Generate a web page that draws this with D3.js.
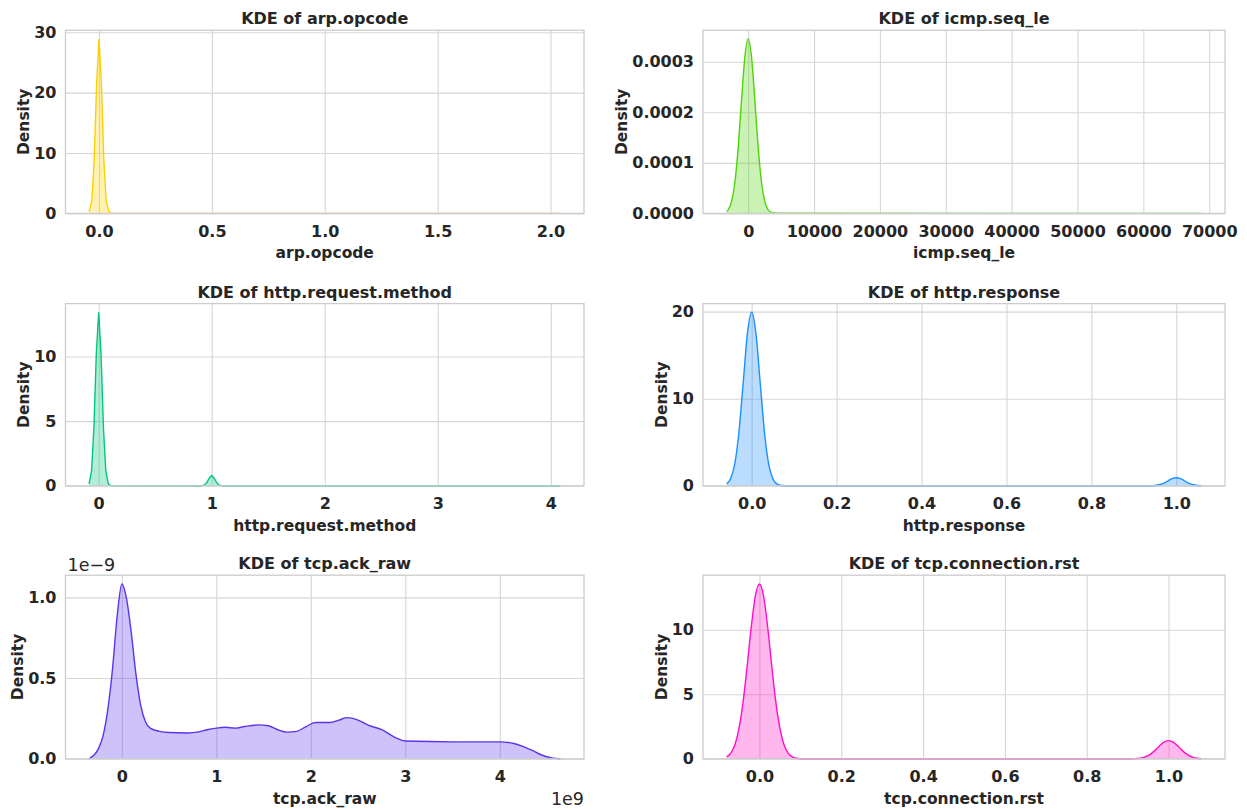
<!DOCTYPE html>
<html><head><meta charset="utf-8">
<script src="https://cdn.jsdelivr.net/npm/d3@7"></script>
<style>
body{margin:0;background:#fff;}
text{font-family:"DejaVu Sans",sans-serif;fill:#262626;}
</style></head><body>
<svg id="chart" width="1247" height="809"></svg>
<script>
// ---------- data ----------
const arpX       = [-0.044, -0.0315, -0.021, -0.0105, 0, 0.0105, 0.021, 0.0315, 0.044, 0.055, 1.0, 2.044];
const arpDensity = [0.3, 2.1, 9.1, 21.6, 28.9, 21.6, 9.1, 2.1, 0.3, 0.02, 0, 0];
const arpXTicks  = [0, 0.5, 1.0, 1.5, 2.0];
const arpYTicks  = [0, 10, 20, 30];

const icmpX       = [-3260, -3000, -2500, -2000, -1500, -1000, -500, 0, 500, 1000, 1500, 2000, 2500, 3000, 3260, 4000, 5000, 68795];
const icmpDensity = [0.0000038, 0.0000077, 0.0000245, 0.0000635, 0.000133, 0.000226, 0.000310, 0.000345, 0.000310, 0.000226, 0.000133, 0.0000635, 0.0000245, 0.0000077, 0.0000038, 0.0000008, 0.0000002, 0];
const icmpXTicks  = [0, 10000, 20000, 30000, 40000, 50000, 60000, 70000];
const icmpYTicks  = [0, 0.0001, 0.0002, 0.0003];

const reqX       = [-0.085, -0.063, -0.042, -0.021, 0, 0.021, 0.042, 0.063, 0.085, 0.106, 0.894, 0.915, 0.937, 0.958, 0.979, 1.0, 1.021, 1.042, 1.063, 1.085, 1.106, 4.085];
const reqDensity = [0.15, 1.15, 4.5, 10.2, 13.42, 10.2, 4.5, 1.15, 0.15, 0.01, 0, 0.01, 0.07, 0.27, 0.61, 0.80, 0.61, 0.27, 0.07, 0.01, 0, 0];
const reqXTicks  = [0, 1, 2, 3, 4];
const reqYTicks  = [0, 5, 10];

const respX       = [-0.0588, -0.05, -0.04, -0.03, -0.02, -0.01, 0, 0.01, 0.02, 0.03, 0.04, 0.05, 0.0588, 0.07, 0.09, 0.5, 0.91, 0.93,
                     0.9412, 0.95, 0.96, 0.97, 0.98, 0.99, 1.0, 1.01, 1.02, 1.03, 1.04, 1.05, 1.0588];
const respDensity = [0.22, 0.77, 2.49, 6.18, 11.83, 17.49, 19.92, 17.49, 11.83, 6.18, 2.49, 0.77, 0.22, 0.03, 0, 0, 0, 0.002,
                     0.01, 0.036, 0.116, 0.288, 0.552, 0.817, 0.93, 0.817, 0.552, 0.288, 0.116, 0.036, 0.01];
const respXTicks  = [0, 0.2, 0.4, 0.6, 0.8, 1.0];
const respYTicks  = [0, 10, 20];

// tcp.ack_raw: x in units of 1e9, density in units of 1e-9
const ackX       = [-0.347, -0.3, -0.25, -0.2, -0.15, -0.1, -0.05, 0, 0.05, 0.1, 0.15, 0.2, 0.25, 0.3, 0.4, 0.5, 0.7, 0.8, 0.9, 1.0, 1.1, 1.2, 1.3, 1.45, 1.55, 1.65, 1.75, 1.85, 1.95, 2.05, 2.2, 2.3, 2.38, 2.5, 2.6, 2.75, 2.9, 3.0, 3.5, 4.0, 4.15, 4.25, 4.35, 4.45, 4.55, 4.642];
const ackDensity = [0.0, 0.02, 0.06, 0.14, 0.30, 0.55, 0.88, 1.083, 0.99, 0.78, 0.52, 0.33, 0.23, 0.19, 0.17, 0.163, 0.16, 0.165, 0.18, 0.19, 0.195, 0.19, 0.2, 0.21, 0.205, 0.18, 0.165, 0.17, 0.2, 0.225, 0.225, 0.24, 0.255, 0.24, 0.21, 0.18, 0.13, 0.11, 0.105, 0.105, 0.095, 0.075, 0.05, 0.022, 0.006, 0.0];
const ackXTicks  = [0, 1, 2, 3, 4];
const ackYTicks  = [0, 0.5, 1.0];

const rstX       = [-0.08, -0.07, -0.06, -0.05, -0.04, -0.03, -0.02, -0.01, 0, 0.01, 0.02, 0.03, 0.04, 0.05, 0.06, 0.07, 0.08, 0.09, 0.11, 0.5, 0.89, 0.91,
                    0.92, 0.93, 0.94, 0.95, 0.96, 0.97, 0.98, 0.99, 1.0, 1.01, 1.02, 1.03, 1.04, 1.05, 1.06, 1.07, 1.08];
const rstDensity = [0.15, 0.44, 1.09, 2.35, 4.41, 7.21, 10.23, 12.63, 13.55, 12.63, 10.23, 7.21, 4.41, 2.35, 1.09, 0.44, 0.15, 0.04, 0, 0, 0, 0.004,
                    0.016, 0.045, 0.113, 0.244, 0.46, 0.75, 1.065, 1.314, 1.41, 1.314, 1.065, 0.75, 0.46, 0.244, 0.113, 0.045, 0.016];
const rstXTicks  = [0, 0.2, 0.4, 0.6, 0.8, 1.0];
const rstYTicks  = [0, 5, 10];

// ---------- chart ----------
const panels = [
  {title:"KDE of arp.opcode", xlabel:"arp.opcode", xs:arpX, ys:arpDensity, xt:arpXTicks, yt:arpYTicks, xf:d3.format(".1f"), yf:d3.format("d"), curve:d3.curveLinear, color:"#FFD000", row:0, col:0},
  {title:"KDE of icmp.seq_le", xlabel:"icmp.seq_le", xs:icmpX, ys:icmpDensity, xt:icmpXTicks, yt:icmpYTicks, xf:d3.format("d"), yf:d3.format(".4f"), curve:d3.curveMonotoneX, color:"#4FD40A", row:0, col:1},
  {title:"KDE of http.request.method", xlabel:"http.request.method", xs:reqX, ys:reqDensity, xt:reqXTicks, yt:reqYTicks, xf:d3.format("d"), yf:d3.format("d"), curve:d3.curveLinear, color:"#00C87A", row:1, col:0},
  {title:"KDE of http.response", xlabel:"http.response", xs:respX, ys:respDensity, xt:respXTicks, yt:respYTicks, xf:d3.format(".1f"), yf:d3.format("d"), curve:d3.curveMonotoneX, color:"#1A8FFF", row:1, col:1},
  {title:"KDE of tcp.ack_raw", xlabel:"tcp.ack_raw", xs:ackX, ys:ackDensity, xt:ackXTicks, yt:ackYTicks, xf:d3.format("d"), yf:d3.format(".1f"), curve:d3.curveMonotoneX, color:"#5B34EC", row:2, col:0, offsets:true},
  {title:"KDE of tcp.connection.rst", xlabel:"tcp.connection.rst", xs:rstX, ys:rstDensity, xt:rstXTicks, yt:rstYTicks, xf:d3.format(".1f"), yf:d3.format("d"), curve:d3.curveMonotoneX, color:"#FF10C8", row:2, col:1}
];

const colLeft = [65.5, 703], colRight = [584, 1225];
const rowTop = [30.2, 303.6, 575.2], rowBottom = [213.4, 485.8, 758.8];
const FS_TICK = 16, FS_TITLE = 16, FS_LABEL = 15.5;

const svg = d3.select("#chart");
svg.append("rect").attr("width",1247).attr("height",809).attr("fill","#fff");

panels.forEach(p => {
  const L = colLeft[p.col], R = colRight[p.col], T = rowTop[p.row], B = rowBottom[p.row];
  const W = R - L, H = B - T;
  const [x0, x1] = d3.extent(p.xs);
  const m = (x1 - x0) * 0.05;
  const x = d3.scaleLinear().domain([x0 - m, x1 + m]).range([0, W]);
  const y = d3.scaleLinear().domain([0, d3.max(p.ys) * 1.05]).range([H, 0]);
  const g = svg.append("g").attr("transform", `translate(${L},${T})`);

  const xa = g.append("g").attr("transform", `translate(0,${H})`)
    .call(d3.axisBottom(x).tickValues(p.xt).tickFormat(p.xf).tickSize(-H).tickPadding(12));
  const ya = g.append("g")
    .call(d3.axisLeft(y).tickValues(p.yt).tickFormat(p.yf).tickSize(-W).tickPadding(9));
  [xa, ya].forEach(a => {
    a.select(".domain").remove();
    a.selectAll(".tick line").attr("stroke", "#d6d6d6").attr("stroke-width", 1.1);
    a.selectAll(".tick text").attr("font-family", "DejaVu Sans").attr("font-weight", "bold")
      .attr("font-size", FS_TICK).attr("fill", "#262626");
  });

  const pts = p.xs.map((v, i) => [v, p.ys[i]]);
  g.append("path").datum(pts)
    .attr("d", d3.area().x(d => x(d[0])).y0(y(0)).y1(d => y(d[1])).curve(p.curve))
    .attr("fill", p.color).attr("fill-opacity", 0.3).attr("stroke", "none");
  g.append("path").datum(pts)
    .attr("d", d3.line().x(d => x(d[0])).y(d => y(d[1])).curve(p.curve))
    .attr("fill", "none").attr("stroke", p.color).attr("stroke-width", 1.4);

  g.append("rect").attr("width", W).attr("height", H)
    .attr("fill", "none").attr("stroke", "#cccccc").attr("stroke-width", 1.3);

  g.append("text").attr("x", W / 2).attr("y", -6).attr("text-anchor", "middle")
    .attr("font-weight", "bold").attr("font-size", FS_TITLE).text(p.title);
  g.append("text").attr("x", W / 2).attr("y", H + 45).attr("text-anchor", "middle")
    .attr("font-weight", "bold").attr("font-size", FS_LABEL).text(p.xlabel);

  let maxW = 0;
  ya.selectAll(".tick text").each(function(){ maxW = Math.max(maxW, this.getComputedTextLength()); });
  const lx = -9 - maxW - 5;
  g.append("text").attr("transform", `translate(${lx},${H / 2}) rotate(-90)`)
    .attr("text-anchor", "middle").attr("font-weight", "bold").attr("font-size", FS_LABEL).text("Density");

  if (p.offsets) {
    g.append("text").attr("x", 2).attr("y", -4).attr("font-size", 17.5).text("1e\u22129");
    g.append("text").attr("x", W).attr("y", H + 46).attr("text-anchor", "end").attr("font-size", 17.5).text("1e9");
  }
});
</script>
</body></html>
